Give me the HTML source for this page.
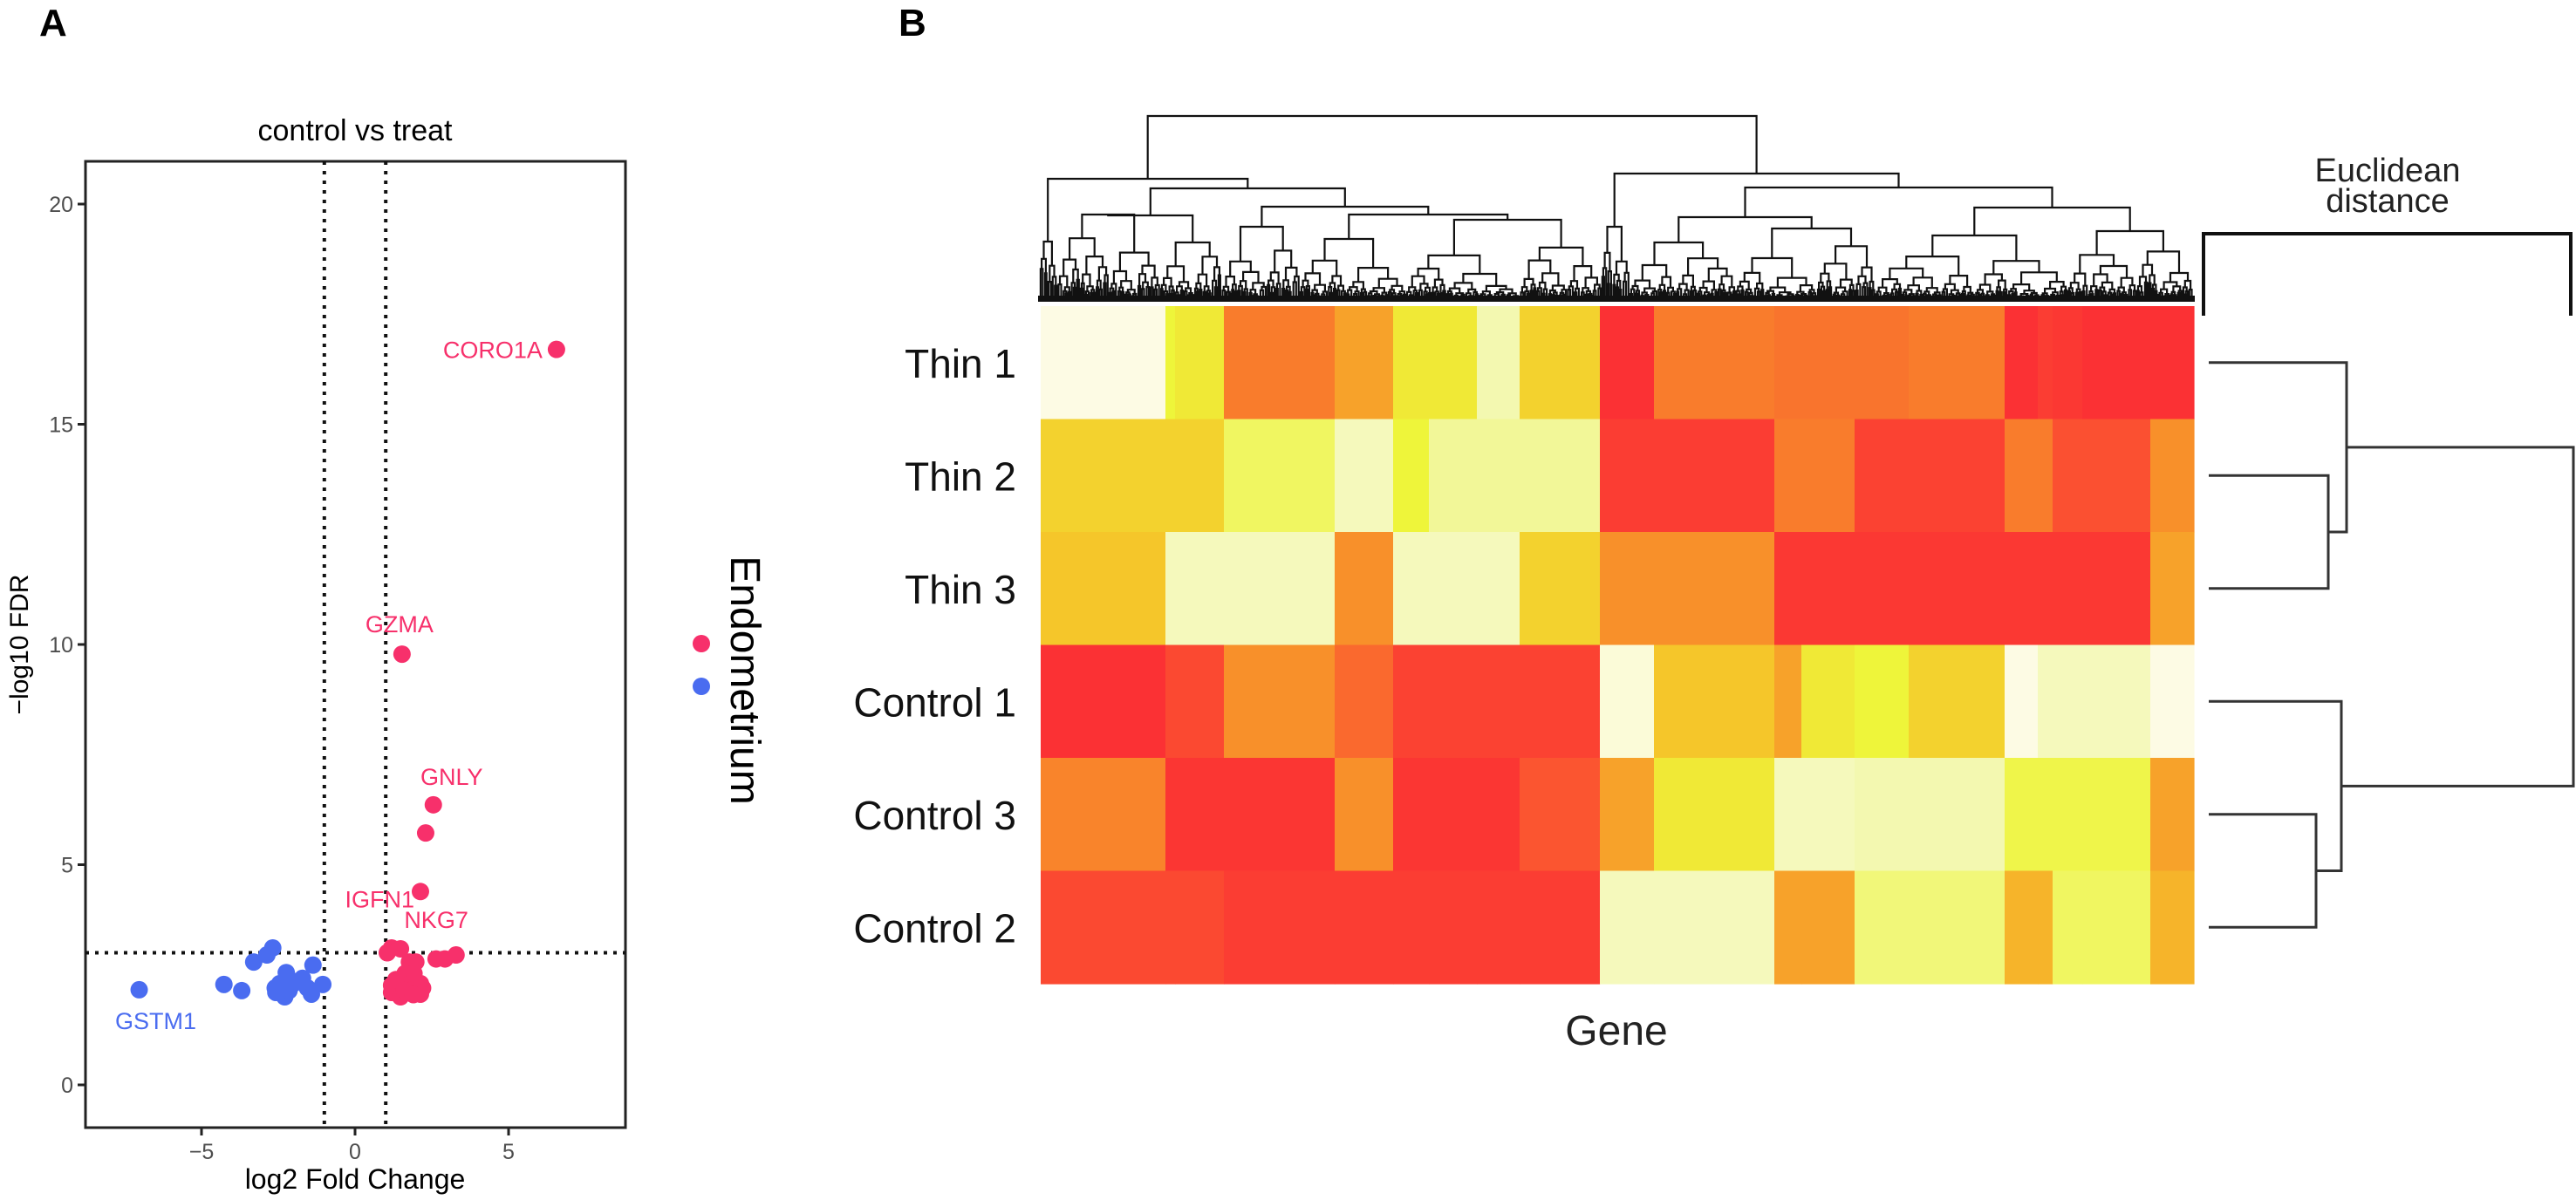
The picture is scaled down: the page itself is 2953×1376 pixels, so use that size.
<!DOCTYPE html>
<html><head><meta charset="utf-8"><style>
html,body{margin:0;padding:0;background:#fff;}
svg{display:block;}
text{font-family:"Liberation Sans",sans-serif;}
</style></head>
<body>
<svg id="fig" width="2953" height="1376" viewBox="0 0 2953 1376" xmlns="http://www.w3.org/2000/svg">
  <rect x="0" y="0" width="2953" height="1376" fill="#fff"/>
  <text x="45" y="41" font-size="44" font-weight="bold">A</text>
  <text x="1030" y="41" font-size="44" font-weight="bold">B</text>

  <!-- Volcano -->
  <g id="volcano">
    <text x="407" y="161" font-size="34" text-anchor="middle">control vs treat</text>
    <rect x="98" y="185" width="619" height="1108" fill="none" stroke="#222" stroke-width="3"/>
    <g id="vgrid"></g>
    <g id="vticks"></g>
    <g id="vpoints"></g>
    <g id="vlabels"></g>
    <text x="407" y="1363" font-size="32" text-anchor="middle">log2 Fold Change</text>
    <text transform="translate(32,739) rotate(-90)" font-size="30" text-anchor="middle">−log10 FDR</text>
  </g>
  <g>
    <text transform="translate(838,780) rotate(90)" font-size="48" text-anchor="middle">Endometrium</text>
    <circle cx="804" cy="738" r="10" fill="#f7306b"/>
    <circle cx="804" cy="787" r="10" fill="#4a6cf0"/>
  </g>

  <!-- Heatmap -->
  <g id="heat"></g>
  <g id="coldendro"></g>
  <rect x="1190" y="339" width="1326" height="7" fill="#111"/>
  <g id="rowlabels"></g>
  <g id="rowdendro"></g>
  <text x="1853" y="1198" font-size="48" text-anchor="middle" fill="#222">Gene</text>
  <text x="2737" y="208" font-size="38" text-anchor="middle" fill="#222">Euclidean</text>
  <text x="2737" y="243" font-size="38" text-anchor="middle" fill="#222">distance</text>
  <path d="M2526 362 V268 H2947 V362" fill="none" stroke="#111" stroke-width="4"/>
</svg>
<script>
// ---------- Volcano data ----------
const redX = [6.56, 1.53, 2.55, 2.30, 2.13, 1.19, 1.48, 1.77, 1.98, 2.64, 2.93, 3.29, 1.19, 1.19, 1.48, 1.77, 2.13, 2.13, 1.63, 1.92, 1.33, 2.20, 1.05, 1.60, 1.90];
const redY = [16.7, 9.78, 6.36, 5.72, 4.39, 3.11, 3.09, 2.79, 2.79, 2.86, 2.86, 2.95, 2.26, 2.10, 2.00, 2.26, 2.30, 2.06, 2.53, 2.53, 2.39, 2.20, 3.00, 2.15, 2.05];
const blueX = [-7.03, -4.27, -3.69, -3.30, -2.87, -2.68, -2.24, -1.37, -2.58, -2.29, -2.00, -1.71, -1.42, -1.05, -2.45, -1.55, -2.15, -2.60, -1.90];
const blueY = [2.16, 2.28, 2.14, 2.79, 2.95, 3.11, 2.55, 2.72, 2.10, 2.00, 2.30, 2.42, 2.06, 2.28, 2.30, 2.20, 2.14, 2.20, 2.35];
const yTicks = [0, 5, 10, 15, 20];
const xTicks = [-5, 0, 5];
const xTickLabels = ["−5", "0", "5"];
const fcCut = [-1, 1];
const fdrCut = [3];
const geneLabels = ["CORO1A", "GZMA", "GNLY", "IGFN1", "NKG7", "GSTM1"];

const NS = "http://www.w3.org/2000/svg";
function mk(tag, attrs, parent){const e=document.createElementNS(NS,tag);for(const k in attrs)e.setAttribute(k,attrs[k]);parent.appendChild(e);return e;}
const sx = v => 407 + 35.2*v;
const sy = v => 1244 - 50.5*v;
const BOX = {l:98, r:717, t:185, b:1293};

const vgrid = document.getElementById('vgrid');
fcCut.forEach(c=>{
  const l = mk('line',{x1:sx(c),x2:sx(c),y1:BOX.t,y2:BOX.b,stroke:'#111','stroke-width':4,'stroke-dasharray':'4 7'},vgrid);
  
  
});
fdrCut.forEach(c=>{
  const l = mk('line',{x1:BOX.l,x2:BOX.r,y1:sy(c),y2:sy(c),stroke:'#111','stroke-width':4,'stroke-dasharray':'4 7'},vgrid);
  
  
});
const vticks = document.getElementById('vticks');
yTicks.forEach(t=>{
  const l = mk('line',{x1:BOX.l-9,x2:BOX.l,y1:sy(t),y2:sy(t),stroke:'#222','stroke-width':3},vticks);
  
  
  const tx = mk('text',{x:BOX.l-14,y:sy(t)+9,'font-size':25,'text-anchor':'end',fill:'#4d4d4d'},vticks);
  tx.textContent = String(t);
  
  
});
xTicks.forEach((t,i)=>{
  const l = mk('line',{x1:sx(t),x2:sx(t),y1:BOX.b,y2:BOX.b+9,stroke:'#222','stroke-width':3},vticks);
  
  
  const tx = mk('text',{x:sx(t),y:BOX.b+36,'font-size':25,'text-anchor':'middle',fill:'#4d4d4d'},vticks);
  tx.textContent = xTickLabels[i];
  
  
});
const vpoints = document.getElementById('vpoints');
blueX.forEach((x,i)=>{
  const c = mk('circle',{cx:sx(x),cy:sy(blueY[i]),r:10,fill:'#4a6cf0'},vpoints);
  
  
});
redX.forEach((x,i)=>{
  const c = mk('circle',{cx:sx(x),cy:sy(redY[i]),r:10,fill:'#f7306b'},vpoints);
  
  
});
// label placement: [pointX, pointY, dx, dy, anchor, colour]
const labelPts = [
  [redX[0], redY[0], -16, 10, 'end', '#f7306b'],
  [redX[1], redY[1], -3, -25, 'middle', '#f7306b'],
  [redX[2], redY[2], 21, -23, 'middle', '#f7306b'],
  [redX[4], redY[4], -7, 18, 'end', '#f7306b'],
  [1.6, 3.11, 0, -23, 'start', '#f7306b'],
  [blueX[0], blueY[0], 19, 45, 'middle', '#4a6cf0']
];
const vlabels = document.getElementById('vlabels');
geneLabels.forEach((g,i)=>{
  const p = labelPts[i];
  const t = mk('text',{x:sx(p[0])+p[2],y:sy(p[1])+p[3],'font-size':27,'text-anchor':p[4],fill:p[5]},vlabels);
  t.textContent = g;
  
  
});

// ---------- Heatmap data ----------
const samples = ["Thin 1","Thin 2","Thin 3","Control 1","Control 3","Control 2"];
const segEdges = [1193,1336,1347,1403,1530,1597,1638,1693,1742,1834,1896,2034,2065,2126,2188,2298,2336,2353,2387,2465,2515];
const rowThin1 = [0.02,0.30,0.35,0.70,0.60,0.35,0.35,0.15,0.45,0.95,0.70,0.72,0.72,0.72,0.70,0.95,0.90,0.92,0.95,0.95];
const rowThin2 = [0.45,0.45,0.45,0.25,0.12,0.30,0.18,0.18,0.18,0.90,0.90,0.70,0.70,0.88,0.88,0.70,0.70,0.82,0.82,0.65];
const rowThin3 = [0.50,0.12,0.12,0.12,0.65,0.12,0.12,0.12,0.45,0.65,0.65,0.92,0.92,0.92,0.92,0.92,0.92,0.92,0.92,0.60];
const rowCtrl1 = [0.95,0.85,0.85,0.65,0.75,0.88,0.88,0.88,0.88,0.05,0.50,0.60,0.35,0.30,0.45,0.02,0.12,0.12,0.12,0.02];
const rowCtrl3 = [0.68,0.93,0.93,0.93,0.65,0.93,0.93,0.93,0.80,0.60,0.35,0.12,0.12,0.15,0.15,0.28,0.28,0.28,0.28,0.60];
const rowCtrl2 = [0.85,0.85,0.85,0.90,0.90,0.90,0.90,0.90,0.90,0.12,0.12,0.60,0.60,0.22,0.22,0.55,0.55,0.25,0.25,0.55];
const heatRows = [rowThin1,rowThin2,rowThin3,rowCtrl1,rowCtrl3,rowCtrl2];

const stops = [[0,[255,252,236]],[0.15,[243,248,176]],[0.3,[238,245,58]],[0.5,[245,198,42]],[0.65,[248,144,42]],[0.8,[251,85,48]],[1,[251,37,53]]];
function cmap(v){
  for(let i=1;i<stops.length;i++){ if(v<=stops[i][0]){const a=stops[i-1],b=stops[i];const t=(v-a[0])/(b[0]-a[0]);
    return 'rgb('+a[1].map((c,k)=>Math.round(c+(b[1][k]-c)*t)).join(',')+')';}}
  return 'rgb(251,37,53)';
}
const HT = 351, RH = 129.5;
const heat = document.getElementById('heat');
heatRows.forEach((row,r)=>{
  row.forEach((v,c)=>{
    const x0 = segEdges[c], x1 = segEdges[c+1];
    const rc = mk('rect',{x:x0,y:HT+r*RH,width:x1-x0+0.6,height:RH+0.6,fill:cmap(v)},heat);
    
    
  });
});
const rl = document.getElementById('rowlabels');
samples.forEach((s,i)=>{
  const t = mk('text',{x:1165,y:HT+RH*(i+0.5)+17,'font-size':46,'text-anchor':'end',fill:'#111'},rl);
  t.textContent = s;
  
  
});

// ---------- Row dendrogram ----------
const rd = document.getElementById('rowdendro');
const rc = i => HT + RH*(i+0.5);
const rowPaths = [
  `M2532 ${rc(1)} H2669 V${rc(2)} H2532`,
  `M2532 ${rc(0)} H2690 V${(rc(1)+rc(2))/2} H2669`,
  `M2532 ${rc(4)} H2655 V${rc(5)} H2532`,
  `M2532 ${rc(3)} H2684 V${(rc(4)+rc(5))/2} H2655`,
  `M2690 ${(rc(0)+(rc(1)+rc(2))/2)/2} H2950 V${(rc(3)+(rc(4)+rc(5))/2)/2} H2684`
];
rowPaths.forEach(d=>{
  const p = mk('path',{d:d,fill:'none',stroke:'#333','stroke-width':3},rd);
  
  
});

// ---------- Column dendrogram ----------
const cd = document.getElementById('coldendro');
const BASE = 343;
const fr = [0.42,0.58,0.35,0.63,0.47,0.55,0.3,0.7,0.5,0.44,0.6,0.38,0.52,0.66,0.4,0.56];
const hf = [0.3,0.42,0.25,0.36,0.48,0.33,0.4,0.28,0.45,0.35];
let kf=0, kh=0;
let dPath = '';
function auto(x0,x1,y){
  if(x1-x0<=3.2) return [(x0+x1)/2, BASE];
  const f = fr[kf++ % fr.length];
  const xm = x0+(x1-x0)*f;
  const yl = (xm-x0<=3.2)?BASE:y+(BASE-y)*hf[kh++ % hf.length];
  const yr = (x1-xm<=3.2)?BASE:y+(BASE-y)*hf[kh++ % hf.length];
  const L = auto(x0,xm,yl), R = auto(xm,x1,yr);
  return join(y,L,R);
}
function join(y,L,R){
  dPath += `M${L[0].toFixed(1)} ${L[1].toFixed(1)}V${y.toFixed(1)}H${R[0].toFixed(1)}V${R[1].toFixed(1)}`;
  return [(L[0]+R[0])/2, y];
}
const left = join(205, auto(1192,1212,277),
  join(216, join(247, auto(1212,1330,246), auto(1330,1400,278)),
            join(237, auto(1400,1490,260), join(246, auto(1490,1612,274), auto(1612,1836,252)))));
const right = join(199, auto(1836,1868,260),
  join(215, join(249, auto(1868,1990,278), auto(1990,2150,262)),
            join(238, auto(2150,2370,270), auto(2370,2514,265))));
join(133, left, right);
const dp = mk('path',{d:dPath,fill:'none',stroke:'#111','stroke-width':2.2},cd);


</script>
</body></html>
